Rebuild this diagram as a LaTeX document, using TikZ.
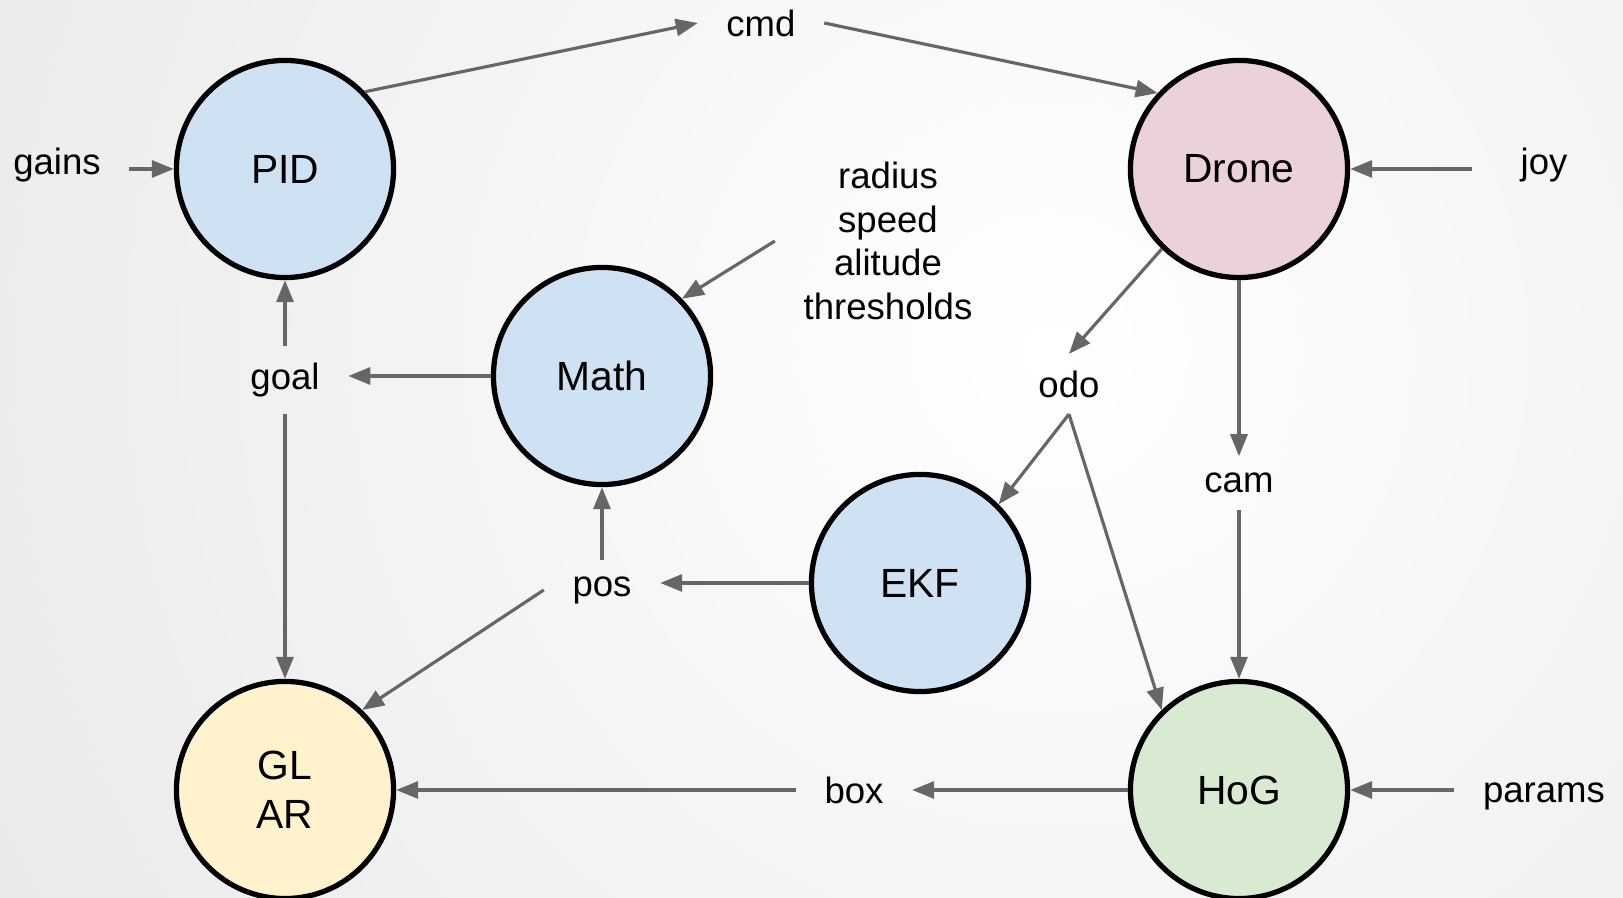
\documentclass[tikz,border=0pt]{standalone}
\usepackage{fontspec}
\setmainfont{Liberation Sans}
\usetikzlibrary{arrows.meta}
\definecolor{pidblue}{HTML}{CFE2F3}
\definecolor{dronepink}{HTML}{EAD1DC}
\definecolor{glyellow}{HTML}{FFF2CC}
\definecolor{hoggreen}{HTML}{D9EAD3}
\definecolor{arrowgray}{HTML}{666666}
\definecolor{bgouter}{HTML}{D6D6D6}

\begin{document}
\begin{tikzpicture}
[x=0.01cm,y=-0.01cm,
 state/.style={draw,circle,line width=1.5pt,minimum size=2.17cm,inner sep=0pt,
   align=center,font=\fontsize{11.6}{13.8}\selectfont},
 lbl/.style={inner xsep=0.28cm,inner ysep=0.16cm,align=center,
   font=\fontsize{10.4}{12.4}\selectfont},
 arr/.style={draw=arrowgray,line width=0.9pt,-{Triangle[length=0.22cm,width=0.17cm]}}]
\useasboundingbox (0,0) rectangle (1623,898);
\begin{scope}
\clip (0,0) rectangle (1623,898);
\fill[bgouter] (0,0) rectangle (1623,898);
\shade[inner color=white,outer color=bgouter] (1050,350) circle (2300);
\end{scope}
% circles
\node[state,fill=pidblue](pid) at (285,169){PID};
\node[state,fill=dronepink](drone) at (1239,169){Drone};
\node[state,fill=pidblue](math) at (602,376){Math};
\node[state,fill=pidblue](ekf) at (920,583){EKF};
\node[state,fill=glyellow](glar) at (285,790){GL\\AR};
\node[state,fill=hoggreen](hog) at (1239,790){HoG};
% topics
\node[lbl](cmd) at (761,23){cmd};
\node[lbl](gains) at (57,165){gains};
\node[lbl](joy) at (1544,165){joy};
\node[lbl](cfg) at (888,241){radius\\speed\\alitude\\thresholds};
\node[lbl](goal) at (285,380){goal};
\node[lbl](odo) at (1069,384){odo};
\node[lbl](cam) at (1239,483){cam};
\node[lbl](pos) at (602,590){pos};
\node[lbl](box) at (854,790){box};
\node[lbl](params) at (1544,796){params};
\path (pid.44) edge[arr] (cmd.west);
\path (cmd.east) edge[arr] (drone.137);
\path (gains.east |- pid) edge[arr] (pid.west);
\path ([xshift=-0.2cm]joy.west |- drone) edge[arr] (drone.east);
\path (params.west |- hog) edge[arr] (hog.east);
\path (cfg.west) edge[arr] (math.44);
\path (math.west) edge[arr] (goal.east |- math);
\path (goal.north) edge[arr] (pid.south);
\path (goal.south) edge[arr] (glar.north);
\path (drone.226) edge[arr] (odo.north);
\path (odo.south) edge[arr] (ekf.45);
\path (odo.south) edge[arr] (hog.134);
\path (drone.south) edge[arr] (cam.north);
\path (cam.south) edge[arr] (hog.north);
\path (ekf.west) edge[arr] (pos.east |- ekf);
\path (pos.north) edge[arr] (math.south);
\path (pos.west) edge[arr] (glar.46);
\path (hog.west) edge[arr] (box.east |- hog);
\path (box.west |- glar) edge[arr] (glar.east);
\end{tikzpicture}
\end{document}
